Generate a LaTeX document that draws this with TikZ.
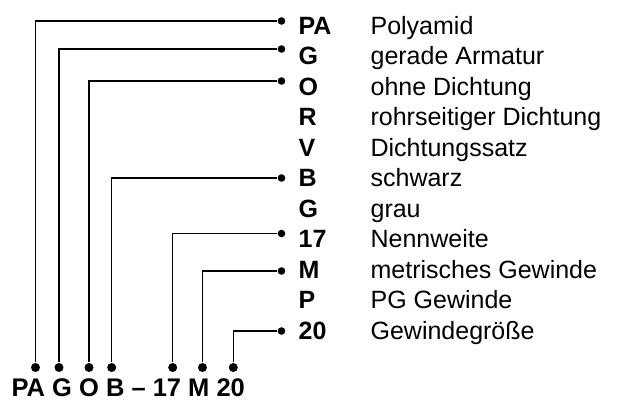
\documentclass[tikz,border=0pt]{standalone}
\usepackage{fontspec}
\setmainfont{Liberation Sans}

\tikzset{
  txt/.style={inner sep=0pt,text height=17.9pt,text depth=0pt,anchor=west},
  code/.style={txt,font=\bfseries},
  rdot/.style={circle,fill=black,inner sep=0pt,minimum size=7.6pt},
  bdot/.style={circle,fill=black,inner sep=0pt,minimum size=9pt}
}

\begin{document}
\begin{tikzpicture}[x=1pt,y=-1pt,line width=1.2pt]
\fontsize{25}{30}\selectfont
\useasboundingbox (0,0) rectangle (618,402);

% codes and meanings
\node[code] (cPA) at (298,25.5) {PA};  \node[txt] (dPA) at (370,25.5) {Polyamid};
\node[code] (cG) at (298,56) {G};      \node[txt] (dG) at (370,56) {gerade Armatur};
\node[code] (cO) at (298,86.5) {O};    \node[txt] (dO) at (370,86.5) {ohne Dichtung};
\node[code] (cR) at (298,117) {R};     \node[txt] (dR) at (370,117) {rohrseitiger Dichtung};
\node[code] (cV) at (298,147.5) {V};   \node[txt] (dV) at (370,147.5) {Dichtungssatz};
\node[code] (cB) at (298,178) {B};     \node[txt] (dB) at (370,178) {schwarz};
\node[code] (cGr) at (298,208.5) {G};  \node[txt] (dGr) at (370,208.5) {grau};
\node[code] (c17) at (298,239) {17};   \node[txt] (d17) at (370,239) {Nennweite};
\node[code] (cM) at (298,269.5) {M};   \node[txt] (dM) at (370,269.5) {metrisches Gewinde};
\node[code] (cP) at (298,300) {P};     \node[txt] (dP) at (370,300) {PG Gewinde};
\node[code] (c20) at (298,330.5) {20}; \node[txt] (d20) at (370,330.5) {Gewindegröße};

% right dots
\node[rdot] (rPA) at (281.5,21) {};
\node[rdot] (rG) at (281.5,49) {};
\node[rdot] (rO) at (281.5,81) {};
\node[rdot] (rB) at (281.5,178) {};
\node[rdot] (r17) at (281.5,233.5) {};
\node[rdot] (rM) at (281.5,271) {};
\node[rdot] (r20) at (281.5,331) {};

% type key
\node[code,font=\fontsize{25.5}{30}\selectfont\bfseries] (key) at (11,387.5) {PA G O B -- 17 M 20};

\node[bdot] (bPA) at (35.5,367.5) {};
\node[bdot] (bG) at (59,367.5) {};
\node[bdot] (bO) at (89,367.5) {};
\node[bdot] (bB) at (111.7,367.5) {};
\node[bdot] (b17) at (172.7,367.5) {};
\node[bdot] (bM) at (202.5,367.5) {};
\node[bdot] (b20) at (233.3,367.5) {};

\draw (bPA) |- (rPA);
\draw (bG) |- (rG);
\draw (bO) |- (rO);
\draw (bB) |- (rB);
\draw (b17) |- (r17);
\draw (bM) |- (rM);
\draw (b20) |- (r20);

\end{tikzpicture}
\end{document}
